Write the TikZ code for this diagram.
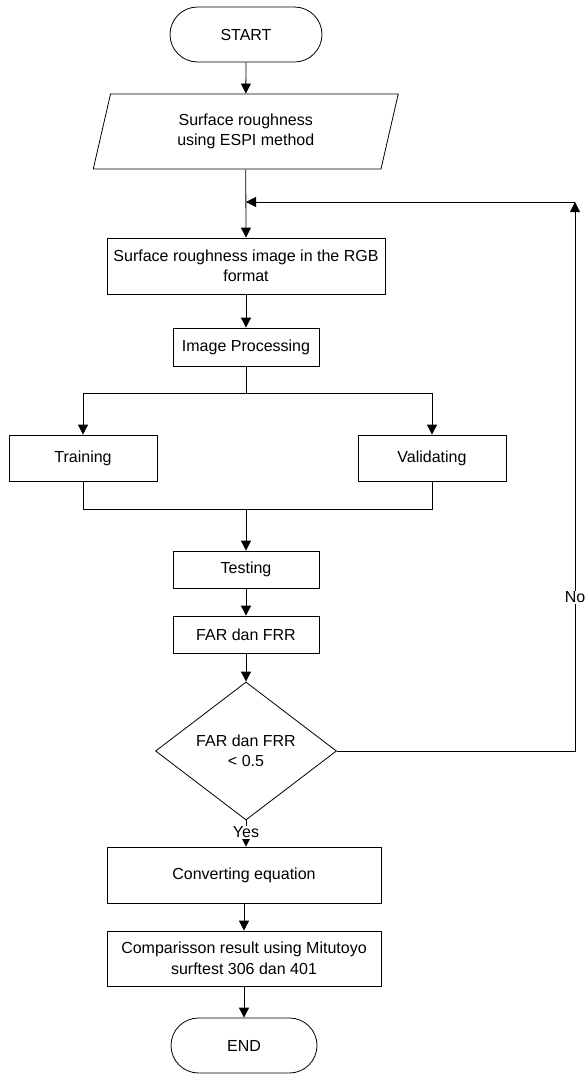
\documentclass[tikz,border=0pt]{standalone}
\usepackage{fontspec}
\setmainfont{Liberation Sans}
\usetikzlibrary{shapes.geometric,shapes.misc,arrows.meta}
\begin{document}
\begin{tikzpicture}[x=1pt,y=-1pt,
  every node/.style={font=\fontsize{16}{20.5}\selectfont, align=center, inner sep=0pt},
  box/.style={draw, rectangle, line width=0.8pt},
  term/.style={draw, rounded rectangle, line width=0.8pt},
  io/.style={draw, trapezium, trapezium left angle=64, trapezium right angle=116, trapezium stretches body, line width=0.8pt},
  decide/.style={draw, diamond, line width=0.8pt},
  conn/.style={line width=0.8pt, -{Triangle[length=10pt,width=10pt]}},
  plain/.style={line width=0.8pt},
  lbl/.style={fill=white, inner sep=1pt}]
\useasboundingbox (0,0) rectangle (585,1074);

\node[term, minimum width=152pt, minimum height=55pt] (start) at (246,34.5) {START};
\node[io, minimum width=305pt, minimum height=75pt] (input) at (245.75,131.5) {Surface roughness\\using ESPI method};
\node[box, minimum width=278pt, minimum height=56pt] (rgb) at (246,266) {Surface roughness image in the RGB\\format};
\node[box, minimum width=146pt, minimum height=38pt] (ip) at (246,347) {Image Processing};
\node[box, minimum width=148pt, minimum height=46pt] (train) at (83,458) {Training};
\node[box, minimum width=148pt, minimum height=46pt] (valid) at (432,458) {Validating};
\node[box, minimum width=146pt, minimum height=37pt] (test) at (246,569.5) {Testing};
\node[box, minimum width=146pt, minimum height=37pt] (far) at (246,634.5) {FAR dan FRR};
\node[decide, minimum width=181pt, minimum height=138pt] (dec) at (246,751) {FAR dan FRR\\{<} 0.5};
\node[box, minimum width=274pt, minimum height=56pt] (conv) at (244,875) {Converting equation};
\node[box, minimum width=274pt, minimum height=55pt] (comp) at (244,958.5) {Comparisson result using Mitutoyo\\surftest 306 dan 401};
\node[term, minimum width=146pt, minimum height=55pt] (end) at (244,1045.5) {END};

\coordinate (fb) at (246,202);
\coordinate (fbr) at (575,202);
\coordinate (split) at (246,393);
\coordinate (merge) at (246,509);

\draw[conn] (start) -- (input);
\draw[conn] (input.south) -- (rgb.north);
\draw[conn] (rgb) -- (ip);
\draw[plain] (ip.south) -- (split);
\draw[conn] (split) -| (train.north);
\draw[conn] (split) -| (valid.north);
\draw[plain] (train.south) |- (merge);
\draw[plain] (valid.south) |- (merge);
\draw[conn] (merge) -- (test.north);
\draw[conn] (test) -- (far);
\draw[conn] (far) -- (dec);
\draw[conn] (dec.east) -| node[lbl, pos=0.64] {No} (fbr);
\draw[conn] (fbr) -- (fb);
\draw[conn] (dec.south) -- node[lbl, pos=0.45] {Yes} (dec.south |- conv.north);
\draw[conn] (conv) -- (comp);
\draw[conn] (comp) -- (end);
\end{tikzpicture}
\end{document}
